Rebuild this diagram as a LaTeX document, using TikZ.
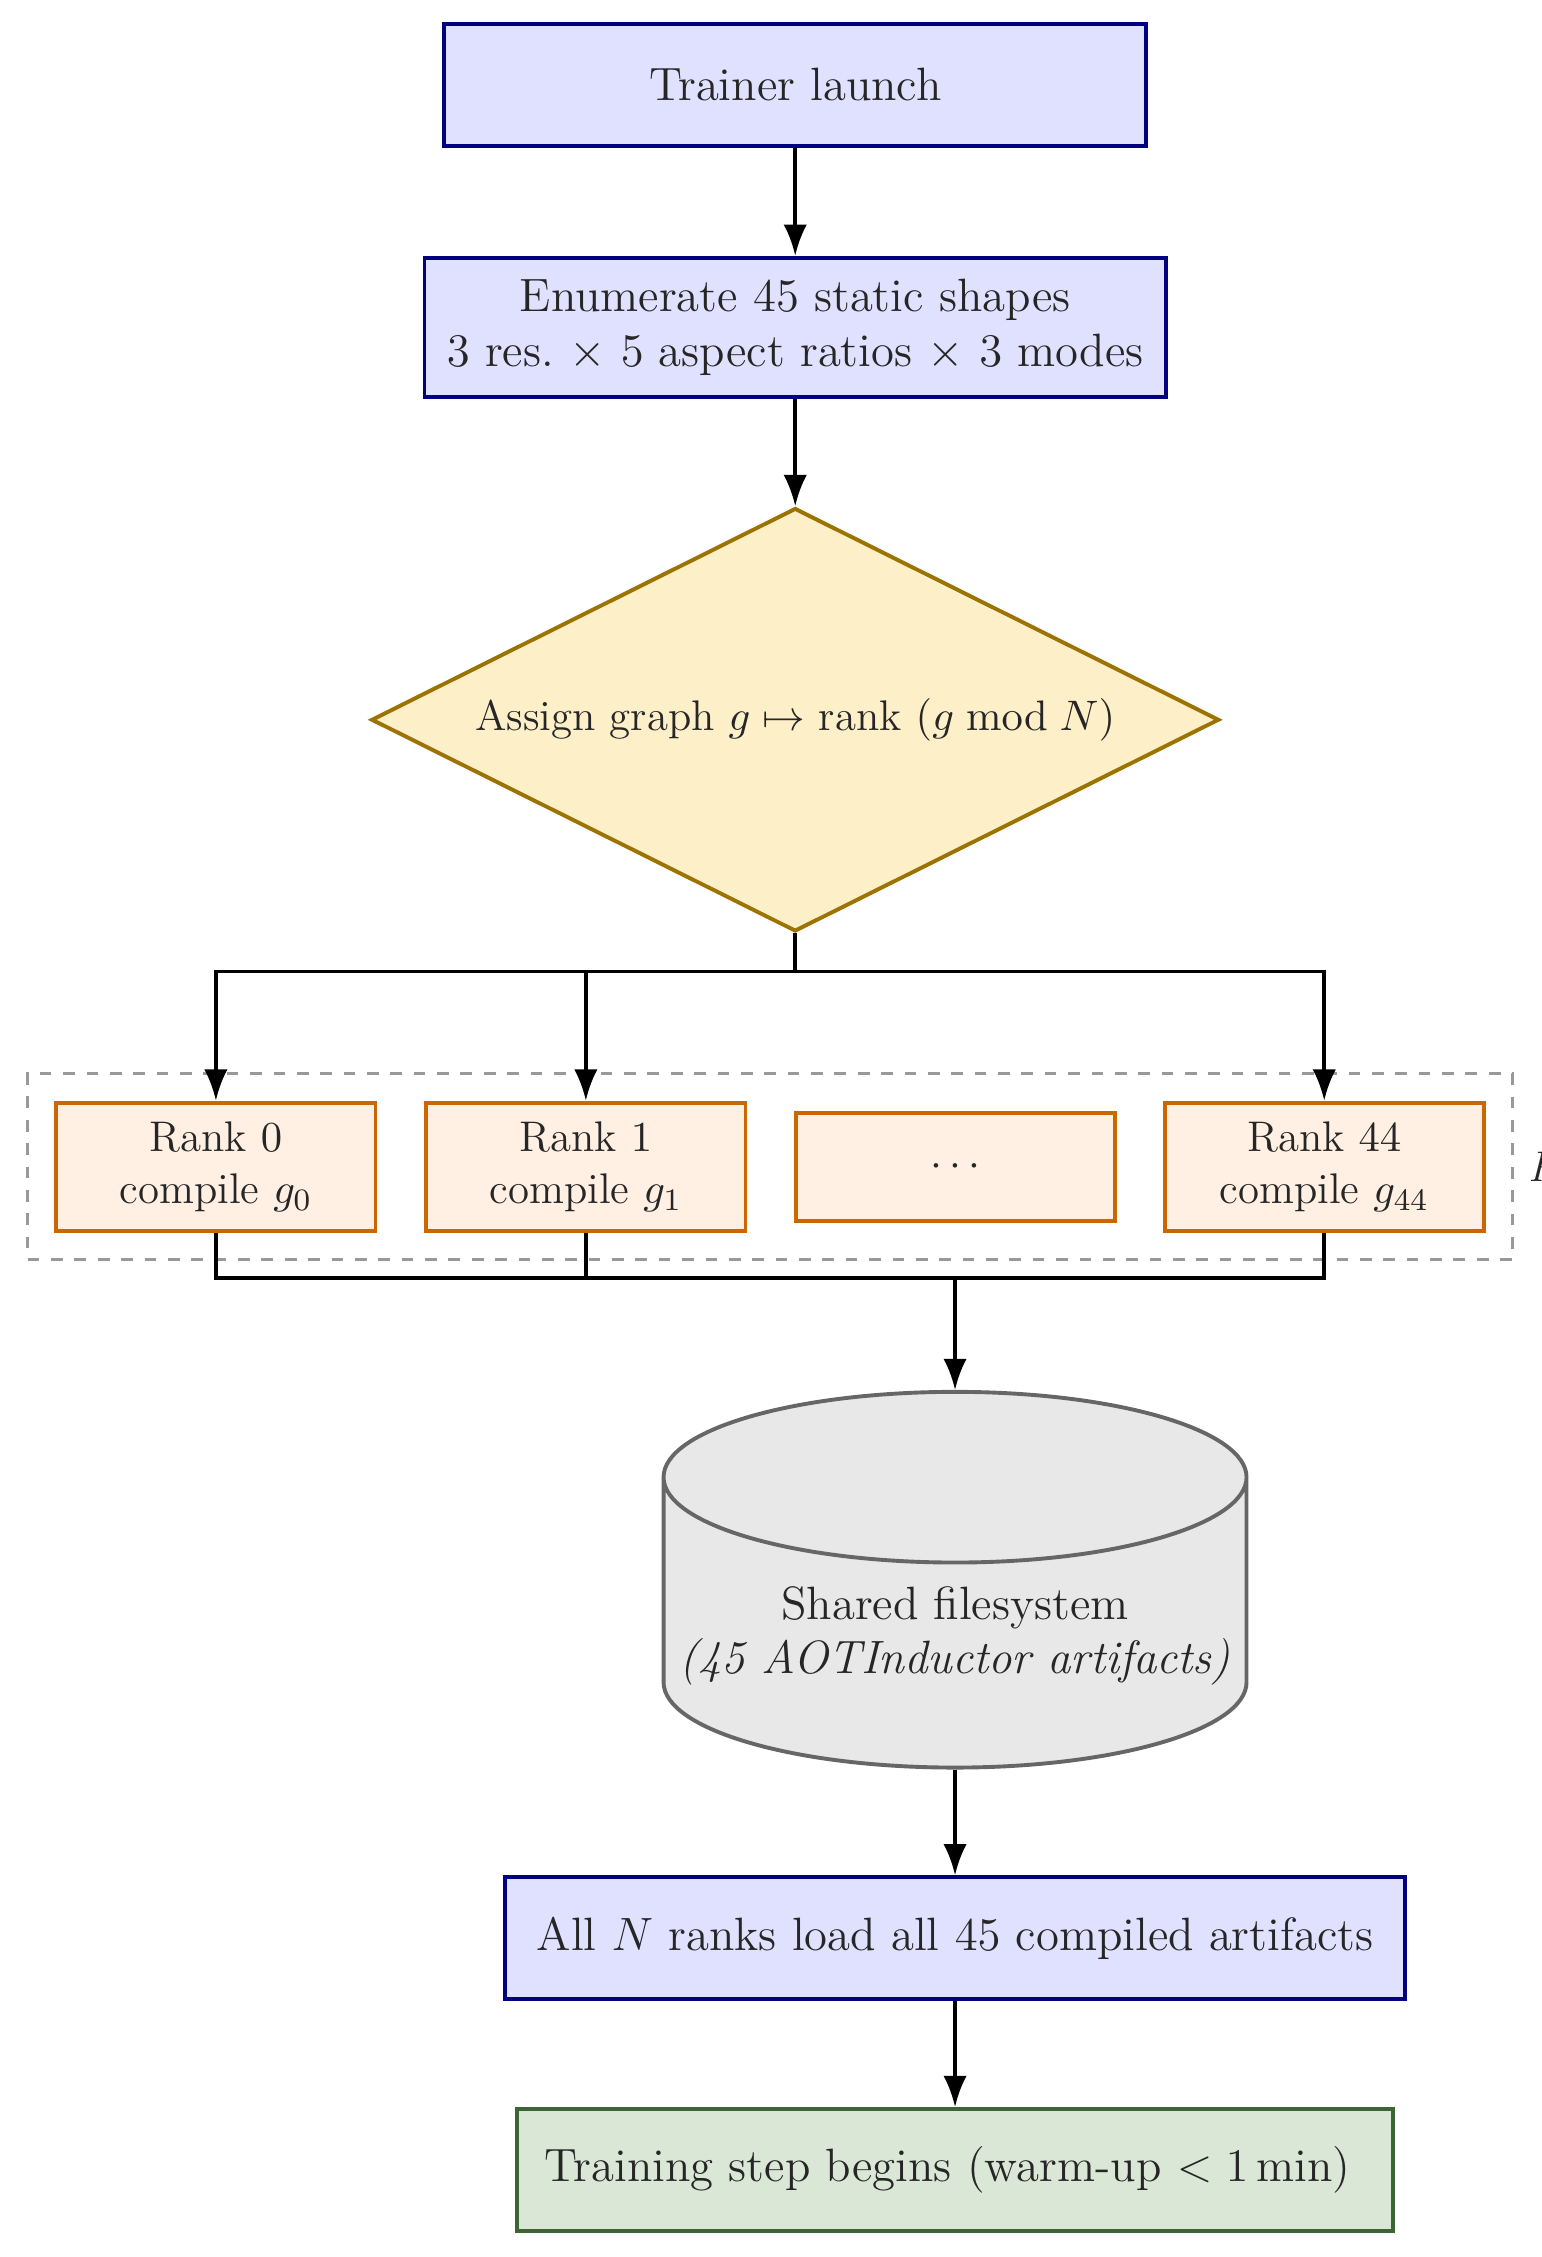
\documentclass[tikz,border=0pt]{standalone}
\usepackage{tikz}
\usetikzlibrary{arrows.meta, shapes.geometric, fit}

\definecolor{decfill}{HTML}{FDEFC8}
\definecolor{decdraw}{HTML}{9C7300}
\definecolor{rankfill}{HTML}{FFF0E3}
\definecolor{rankdraw}{HTML}{CC6600}
\definecolor{donefill}{HTML}{DAE7D6}
\definecolor{donedraw}{HTML}{3C6434}

\begin{document}
\begin{tikzpicture}
    % Definizione stili
    \tikzset{
        stage/.style={
            rectangle,
            draw=blue!50!black,
            fill=blue!12,
            text=black!85,
            minimum width=#1,
            minimum height=1.1cm,
            align=center,
            font=\large,
            line width=1pt
        },
        decision/.style={
            diamond,
            aspect=2,
            draw=decdraw,
            fill=decfill,
            text=black!85,
            minimum width=7.65cm,
            minimum height=3.82cm,
            inner sep=1pt,
            font=\fontsize{11}{13}\selectfont,
            line width=1pt
        },
        rankbox/.style={
            rectangle,
            draw=rankdraw,
            fill=rankfill,
            text=black!85,
            minimum width=2.88cm,
            minimum height=#1,
            align=center,
            font=\fontsize{11}{13.5}\selectfont,
            line width=1pt
        },
        storage/.style={
            cylinder,
            shape border rotate=90,
            aspect=0.296,
            draw=black!60,
            fill=black!9,
            text=black!85,
            minimum width=5.26cm,
            minimum height=3.39cm,
            align=center,
            font=\large,
            line width=1pt
        },
        arrow/.style={-{Latex[length=8pt, width=6pt]}, line width=0.9pt},
        link/.style={line width=0.9pt}
    }

    \useasboundingbox (0,0) rectangle (13.909,-20.364);

    % Fase di avvio
    \node[stage=6.33cm] at (7.175,-0.766) (launch) {Trainer launch};
    \node[stage=6.69cm, minimum height=1.26cm] at (7.175,-2.955) (enum) {
        Enumerate $45$ static shapes\\
        $3$ res.\ $\times$ $5$ aspect ratios $\times$ $3$ modes
    };
    \node[decision] at (7.175,-6.494) (assign) {
        Assign graph $g \mapsto$ rank $(g \bmod N)$
    };

    % Compilazione in parallelo
    \node[rankbox=1.156cm] at (1.948,-10.526) (r0) {Rank $0$\\compile $g_0$};
    \node[rankbox=1.156cm] at (5.286,-10.526) (r1) {Rank $1$\\compile $g_1$};
    \node[rankbox=0.974cm] at (8.623,-10.526) (rdots) {$\cdots$};
    \node[rankbox=1.156cm] at (11.948,-10.526) (r44) {Rank $44$\\compile $g_{44}$};

    \node[draw=black!40, dashed, line width=0.8pt, inner xsep=0.24cm, inner ysep=0.245cm,
        fit=(r0)(r44)] (group) {};
    \node[anchor=west, inner sep=0pt, font=\fontsize{11}{13}\selectfont\itshape, text=black!85]
        at ([xshift=0.12cm]group.east) (plabel) {P};

    % Raccolta degli artefatti
    \node[storage, anchor=shape center] at (8.617,-14.253) (fs) {
        Shared filesystem\\
        \textit{(45 AOTInductor artifacts)}
    };
    \node[stage=8.12cm] at (8.617,-17.487) (load) {All $N$ ranks load all $45$ compiled artifacts};
    \node[stage=7.91cm, draw=donedraw, fill=donefill] at (8.617,-19.578) (train) {
        Training step begins (warm-up $<1$\,min)
    };

    % Frecce principali
    \draw[arrow] (launch.south) -- (enum.north);
    \draw[arrow] (enum.south) -- (assign.north);
    \draw[arrow] (fs.south) -- (load.north);
    \draw[arrow] (load.south) -- (train.north);

    % Distribuzione e raccolta
    \coordinate (split) at (7.175,-8.766);
    \coordinate (merge) at (8.617,-11.532);
    \draw[arrow] (assign.south) -- (split) -| (r0.north);
    \draw[arrow] (assign.south) -- (split) -| (r1.north);
    \draw[arrow] (assign.south) -- (split) -| (r44.north);
    \draw[link] (r0.south) |- (merge);
    \draw[link] (r1.south) |- (merge);
    \draw[link] (r44.south) |- (merge);
    \draw[arrow] (merge) -- (fs.north);

\end{tikzpicture}
\end{document}
